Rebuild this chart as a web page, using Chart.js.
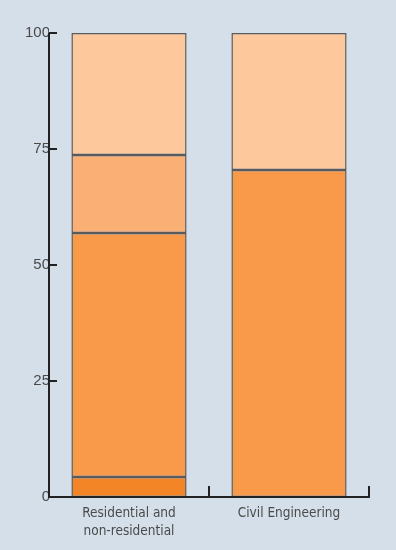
<!DOCTYPE html>
<html>
<head>
<meta charset="utf-8">
<script src="https://cdn.jsdelivr.net/npm/chart.js@4"></script>
<style>
  html, body { margin: 0; padding: 0; background: #d5dfea; }
  #wrap { width: 396px; height: 550px; position: relative; }
</style>
</head>
<body>
<div id="wrap"><canvas id="chart"></canvas></div>
<script>
const categories = [['Residential and', 'non-residential'], 'Civil Engineering'];
const segment1 = [4.3, 0];
const segment2 = [52.6, 70.5];
const segment3 = [16.8, 0];
const segment4 = [26.3, 29.5];
const yTicks = [0, 25, 50, 75, 100];

const colors = ['#f48526', '#f99a4a', '#fab074', '#fdc99c'];

// axis lines with inward ticks, drawn from the chart's own scales
const axisPlugin = {
    id: 'axisLines',
    afterDatasetsDraw(chart) {
        const { ctx, scales: { x, y } } = chart;
        const left = x.left, right = x.right, bottom = y.getPixelForValue(0), top = y.getPixelForValue(100);
        ctx.save();
        ctx.strokeStyle = '#222';
        ctx.lineWidth = 2;
        ctx.beginPath();
        ctx.moveTo(left, top);
        ctx.lineTo(left, bottom);
        ctx.lineTo(right, bottom);
        ctx.stroke();
        yTicks.forEach(v => {
            if (v === 0) return;
            const py = y.getPixelForValue(v);
            ctx.beginPath();
            ctx.moveTo(left, py);
            ctx.lineTo(left + 8, py);
            ctx.stroke();
        });
        // category boundary ticks
        for (let i = 0; i < categories.length; i++) {
            const px = x.getPixelForValue(i) + (x.getPixelForValue(1) - x.getPixelForValue(0)) / 2;
            ctx.beginPath();
            ctx.moveTo(px, bottom + 1);
            ctx.lineTo(px, bottom - 11);
            ctx.stroke();
        }
        ctx.restore();
    }
};

const mk = (data, i) => ({
    data: data,
    backgroundColor: colors[i],
    borderColor: '#5a5a5a',
    borderWidth: 1.5,
    borderSkipped: false,
    barPercentage: 0.72,
    categoryPercentage: 1
});

new Chart(document.getElementById('chart'), {
    type: 'bar',
    data: {
        labels: categories,
        datasets: [mk(segment1, 0), mk(segment2, 1), mk(segment3, 2), mk(segment4, 3)]
    },
    options: {
        responsive: true,
        maintainAspectRatio: false,
        animation: false,
        layout: { padding: { top: 33, right: 27, left: 0, bottom: 0 } },
        plugins: { legend: { display: false }, tooltip: { enabled: false } },
        scales: {
            x: {
                stacked: true,
                grid: { display: false, drawTicks: false },
                border: { display: false },
                ticks: {
                    color: '#4a4a4a',
                    padding: 8,
                    font: { family: '"Liberation Sans Narrow", "DejaVu Sans Condensed", sans-serif', size: 13.5, lineHeight: 1.3 }
                },
                afterFit: (s) => { s.height = 53; }
            },
            y: {
                stacked: true,
                min: 0,
                max: 100,
                afterBuildTicks: (s) => { s.ticks = yTicks.map(v => ({ value: v })); },
                grid: { display: false, drawTicks: false },
                border: { display: false },
                ticks: {
                    color: '#4a4a4a',
                    padding: -1,
                    font: { family: '"Liberation Sans", Arial, sans-serif', size: 15 }
                },
                afterFit: (s) => { s.width = 49; }
            }
        }
    },
    plugins: [axisPlugin]
});
</script>
</body>
</html>
